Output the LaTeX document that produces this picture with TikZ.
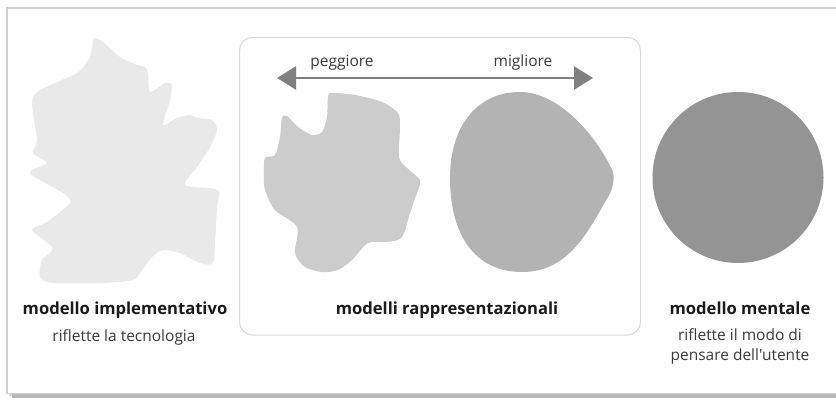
\documentclass[tikz,border=0pt]{standalone}
\usepackage{fontspec}
\setmainfont{Open Sans}[Ligatures=TeXOff]
\usetikzlibrary{arrows.meta}
\definecolor{leafc}{HTML}{E9E9E9}
\definecolor{blobc}{HTML}{CCCCCC}
\definecolor{eggc}{HTML}{B3B3B3}
\definecolor{circc}{HTML}{949494}
\definecolor{framec}{HTML}{D0D0D0}
\definecolor{boxc}{HTML}{DADADA}
\definecolor{arrc}{HTML}{808080}
\definecolor{titc}{HTML}{1A1A1A}
\definecolor{subc}{HTML}{3A3A3A}
\tikzset{
  title/.style={font=\fontsize{16.6}{20}\selectfont\bfseries, text=titc, inner sep=0pt, anchor=base},
  sub/.style={font=\fontsize{15.5}{20}\selectfont, text=subc, inner sep=0pt, anchor=base},
  sub2/.style={font=\fontsize{15.5}{20}\selectfont, text=subc, inner sep=0pt, align=center, anchor=north},
}
\begin{document}
\begin{tikzpicture}[x=1pt,y=-1pt]
\useasboundingbox (0,0) rectangle (836,401);
\begin{scope}
\clip (0,0) rectangle (836,401);
% shadow
\fill[gray!55] (12,393) rectangle (845,397.5);
\fill[gray!30] (9,393) rectangle (12,396);
% outer frame
\draw[framec, line width=1.6pt, fill=white] (7,8) rectangle (845,393.5);
\end{scope}
% inner rounded box
\draw[boxc, line width=1pt, rounded corners=13pt] (239.5,37.5) rectangle (640.5,335);

% leaf (implementation model)
\fill[leafc] plot[smooth cycle, tension=0.45] coordinates {
 (95,38) (103,42) (120,57) (137,65) (145,67) (148,73) (150,92) (165,83) (172,85)
 (170,100) (163,125) (177,118) (190,115) (197,118) (212,120) (217,130) (210,147)
 (197,167) (185,185) (218,190) (217,207) (215,243) (213,263) (200,263) (180,253)
 (163,250) (152,257) (140,273) (133,280) (103,283) (53,283) (40,277) (42,260)
 (53,248) (32,230) (47,222) (70,203) (63,193) (30,173) (47,163) (33,153)
 (37,140) (32,103) (40,90) (77,73) (90,57) (93,40)};

% irregular blob
\fill[blobc] plot[smooth cycle, tension=0.5] coordinates {
 (332,93) (355,95) (382,102) (398,113) (400,127) (399,157) (407,168) (420,180)
 (418,190) (410,213) (402,237) (387,242) (368,243) (352,260) (338,270) (322,272)
 (305,267) (295,253) (297,227) (275,210) (265,190) (264,173) (265,158) (275,155)
 (280,137) (282,118) (287,116) (298,127) (312,135) (322,132) (327,117) (328,97)};

% egg
\fill[eggc] (450,178) .. controls (450,125) and (478,92) .. (520,92)
  .. controls (560,92) and (598,138) .. (613,172)
  .. controls (615,182) and (612,192) .. (605,202)
  .. controls (585,238) and (565,272) .. (522,272)
  .. controls (475,272) and (450,235) .. (450,178) -- cycle;

% circle (mental model)
\fill[circc] (738,177.5) circle (85.5);

% arrow
\coordinate (aL) at (277,78);
\coordinate (aR) at (593,78);
\draw[arrc, line width=2.6pt, {Triangle[length=19pt,width=23pt]}-{Triangle[length=19pt,width=23pt]}] (aL) -- (aR);
\node[sub] (worse) at (342,67) {peggiore};
\node[sub] (better) at (523,67) {migliore};

% labels
\node[title] (impl) at (125,314) {modello implementativo};
\node[sub] (implsub) at (124,341) {riflette la tecnologia};
\node[title] (repr) at (447,314) {modelli rappresentazionali};
\node[title] (ment) at (740,314) {modello mentale};
\node[sub2] (mentsub) at (740,328) {riflette il modo di\\pensare dell'utente};
\end{tikzpicture}
\end{document}
